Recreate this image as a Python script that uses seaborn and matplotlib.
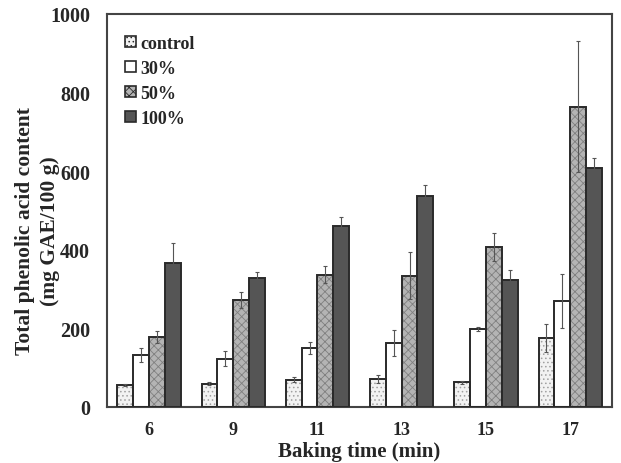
import numpy as np
import pandas as pd
import matplotlib
matplotlib.use("Agg")
import matplotlib.pyplot as plt
import seaborn as sns
from matplotlib.patches import Patch

# data
baking_time = ["6", "9", "11", "13", "15", "17"]
treatments = ["control", "30%", "50%", "100%"]
control_mean = [56, 59, 69, 70, 62, 176]
control_err = [3, 4, 6, 10, 5, 36]
p30_mean = [133, 123, 149, 162, 197, 269]
p30_err = [18, 18, 15, 33, 5, 69]
p50_mean = [177, 272, 336, 334, 407, 764]
p50_err = [15, 20, 22, 60, 36, 166]
p100_mean = [367, 328, 459, 536, 323, 607]
p100_err = [51, 15, 24, 28, 26, 26]

means = [control_mean, p30_mean, p50_mean, p100_mean]
errs = [control_err, p30_err, p50_err, p100_err]

rows = []
for t, m_list in zip(treatments, means):
    for bt, m in zip(baking_time, m_list):
        rows.append({"time": bt, "treatment": t, "value": m})
df = pd.DataFrame(rows)

sns.set_style("white")
plt.rcParams['font.family'] = ['Liberation Serif', 'DejaVu Serif']
plt.rcParams['font.weight'] = 'bold'
plt.rcParams['hatch.linewidth'] = 0.6

fig = plt.figure(figsize=(6.21, 4.64), dpi=100)
ax = fig.add_axes([0.172, 0.121, 0.814, 0.847])

face = {"control": "#f2f2f2", "30%": "#ffffff", "50%": "#b4b4b4", "100%": "#555555"}
hatch = {"control": "....", "30%": "", "50%": "xxxx", "100%": ""}
hcol = {"control": "#a0a0a0", "30%": "#333333", "50%": "#808080", "100%": "#333333"}

sns.barplot(data=df, x="time", y="value", hue="treatment", order=baking_time,
            hue_order=treatments, errorbar=None, width=0.75, ax=ax,
            palette=face, legend=False)

# style bars and add error bars (containers follow hue order)
for t, cont, e in zip(treatments, ax.containers, errs):
    xs, ys = [], []
    for bar in cont:
        bar.set_facecolor(face[t])
        bar.set_hatch(hatch[t])
        bar.set_edgecolor(hcol[t])
        bar.set_linewidth(0)
        xs.append(bar.get_x() + bar.get_width() / 2)
        ys.append(bar.get_height())
        # dark outline drawn separately so the hatch colour stays light
        outline = plt.Rectangle((bar.get_x(), 0), bar.get_width(), bar.get_height(),
                                fill=False, edgecolor="#2a2a2a", linewidth=1.4, zorder=3)
        ax.add_patch(outline)
    ax.errorbar(xs, ys, yerr=e, fmt="none", ecolor="#555555", elinewidth=0.8,
                capsize=1.5, capthick=0.8, zorder=4)

ax.set_ylim(0, 1000)
ax.set_xlim(-0.5, 5.5)
ax.set_yticks([0, 200, 400, 600, 800, 1000])
ax.tick_params(length=0, pad=9)
ax.tick_params(axis='y', labelsize=14.5, pad=12)
ax.tick_params(axis='x', labelsize=13, pad=10)
for lab in ax.get_xticklabels() + ax.get_yticklabels():
    lab.set_fontweight('bold')

ax.set_xlabel("Baking time (min)", fontsize=15, fontweight='bold', labelpad=2)
ax.set_ylabel("Total phenolic acid content\n(mg GAE/100 g)", fontsize=15.5,
              fontweight='bold', linespacing=1.3)
ax.yaxis.set_label_coords(-0.093, 0.45)

for s in ax.spines.values():
    s.set_visible(True)
    s.set_color("#444444")
    s.set_linewidth(1.5)

handles = [Patch(facecolor=face[t], edgecolor="#2a2a2a", linewidth=1.2,
                 hatch=hatch[t]) for t in treatments]
leg = ax.legend(handles, treatments, loc="upper left", frameon=False,
                bbox_to_anchor=(0.0, 0.993), handlelength=0.6, handleheight=0.6,
                handletextpad=0.25, labelspacing=0.45, borderaxespad=0.6,
                prop={'size': 13, 'weight': 'bold'})

fig.savefig("out.png", dpi=100)
